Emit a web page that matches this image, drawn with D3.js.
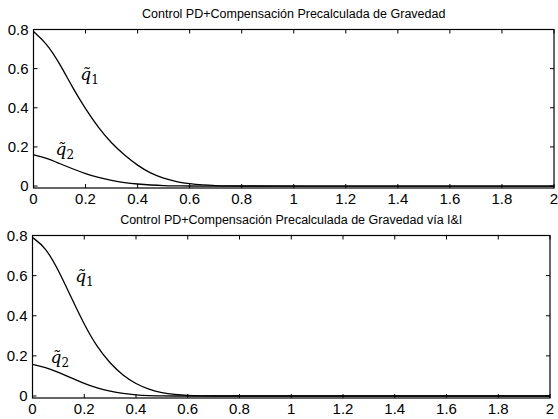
<!DOCTYPE html>
<html>
<head>
<meta charset="utf-8">
<script src="https://cdn.jsdelivr.net/npm/d3@7"></script>
<style>
  body { margin: 0; background: #fff; }
  svg { display: block; }
</style>
</head>
<body>
<div id="chart"></div>
<script>
// time samples (s)
let time = [0, 0.05, 0.1, 0.15, 0.2, 0.25, 0.3, 0.35, 0.4, 0.45, 0.5, 0.55, 0.6, 0.65, 0.7, 0.75, 0.8, 1.0, 1.5, 2.0];

// PD + precomputed gravity compensation
let q1Top = [0.79, 0.73, 0.628, 0.503, 0.394, 0.297, 0.218, 0.157, 0.105, 0.065, 0.039, 0.022, 0.011, 0.005, 0.002, 0.001, 0, 0, 0, 0];
let q2Top = [0.16, 0.143, 0.115, 0.088, 0.063, 0.043, 0.028, 0.017, 0.010, 0.005, 0.002, 0.001, 0, 0, 0, 0, 0, 0, 0, 0];

// same, via I&I
let q1Bot = [0.79, 0.742, 0.628, 0.49, 0.355, 0.243, 0.162, 0.102, 0.06, 0.033, 0.016, 0.007, 0.002, 0, 0, 0, 0, 0, 0, 0];
let q2Bot = [0.158, 0.143, 0.118, 0.09, 0.062, 0.039, 0.023, 0.012, 0.005, 0.002, 0, 0, 0, 0, 0, 0, 0, 0, 0, 0];

let xTicks = [0, 0.2, 0.4, 0.6, 0.8, 1, 1.2, 1.4, 1.6, 1.8, 2];
let yTicks = [0, 0.2, 0.4, 0.6, 0.8];

let titles = [
  "Control PD+Compensación Precalculada de Gravedad",
  "Control PD+Compensación Precalculada de Gravedad vía I&I"
];

let width = 558, height = 419;

const svg = d3.select("#chart").append("svg")
    .attr("width", width)
    .attr("height", height)
    .style("font-family", "'Liberation Sans', Arial, sans-serif");

// panel boxes (left, right, top, bottom) in px
const panels = [
  {box: [33.5, 554, 29.5, 188], q1: q1Top, q2: q2Top, title: titles[0],
   lab1: [0.18, 0.54], lab2: [0.085, 0.16]},
  {box: [32.5, 550, 235.5, 398], q1: q1Bot, q2: q2Bot, title: titles[1],
   lab1: [0.165, 0.57], lab2: [0.07, 0.165]}
];

panels.forEach(p => {
  const [l, r, t, b] = p.box;
  const x = d3.scaleLinear().domain([0, 2]).range([l, r]);
  const y = d3.scaleLinear().domain([-0.01, 0.8]).range([b, t]);
  const g = svg.append("g");

  // ticks inside the box, on all four sides
  const tl = 4;
  g.append("g").selectAll("line")
    .data(xTicks)
    .join("line")
      .attr("x1", d => x(d)).attr("x2", d => x(d))
      .attr("y1", b).attr("y2", b - tl)
      .attr("stroke", "#000");
  g.append("g").selectAll("line")
    .data(xTicks)
    .join("line")
      .attr("x1", d => x(d)).attr("x2", d => x(d))
      .attr("y1", t).attr("y2", t + tl)
      .attr("stroke", "#000");
  g.append("g").selectAll("line")
    .data(yTicks)
    .join("line")
      .attr("x1", l).attr("x2", l + tl)
      .attr("y1", d => y(d)).attr("y2", d => y(d))
      .attr("stroke", "#000");
  g.append("g").selectAll("line")
    .data(yTicks)
    .join("line")
      .attr("x1", r).attr("x2", r - tl)
      .attr("y1", d => y(d)).attr("y2", d => y(d))
      .attr("stroke", "#000");

  // tick labels
  g.append("g").selectAll("text")
    .data(xTicks)
    .join("text")
      .attr("x", d => x(d))
      .attr("y", b + 16)
      .attr("text-anchor", "middle")
      .attr("font-size", 15)
      .text(d => d3.format("~g")(d));
  g.append("g").selectAll("text")
    .data(yTicks)
    .join("text")
      .attr("x", l - 5)
      .attr("y", d => y(d))
      .attr("dy", "0.35em")
      .attr("text-anchor", "end")
      .attr("font-size", 15)
      .text(d => d3.format("~g")(d));

  // curves
  const line = d3.line()
    .x((d, i) => x(time[i]))
    .y(d => y(d))
    .curve(d3.curveBasis);
  [p.q1, p.q2].forEach(s => {
    g.append("path")
      .datum(s)
      .attr("fill", "none")
      .attr("stroke", "#000")
      .attr("stroke-width", 1.3)
      .attr("d", line);
  });

  // box
  g.append("rect")
    .attr("x", l).attr("y", t)
    .attr("width", r - l).attr("height", b - t)
    .attr("fill", "none")
    .attr("stroke", "#000")
    .attr("stroke-width", 1.2);

  // title
  g.append("text")
    .attr("x", (l + r) / 2)
    .attr("y", t - 12)
    .attr("text-anchor", "middle")
    .attr("font-size", 12.5)
    .text(p.title);

  // curve labels: q with tilde and subscript
  [[p.lab1, "1"], [p.lab2, "2"]].forEach(([pos, sub]) => {
    const lab = g.append("text")
      .attr("x", x(pos[0])).attr("y", y(pos[1]))
      .attr("font-family", "'DejaVu Serif', serif")
      .attr("font-size", 17);
    lab.append("tspan").attr("font-style", "italic").text("q\u0303");
    lab.append("tspan").attr("font-size", 12).attr("dy", 4).text(sub);
  });
});
</script>
</body>
</html>
